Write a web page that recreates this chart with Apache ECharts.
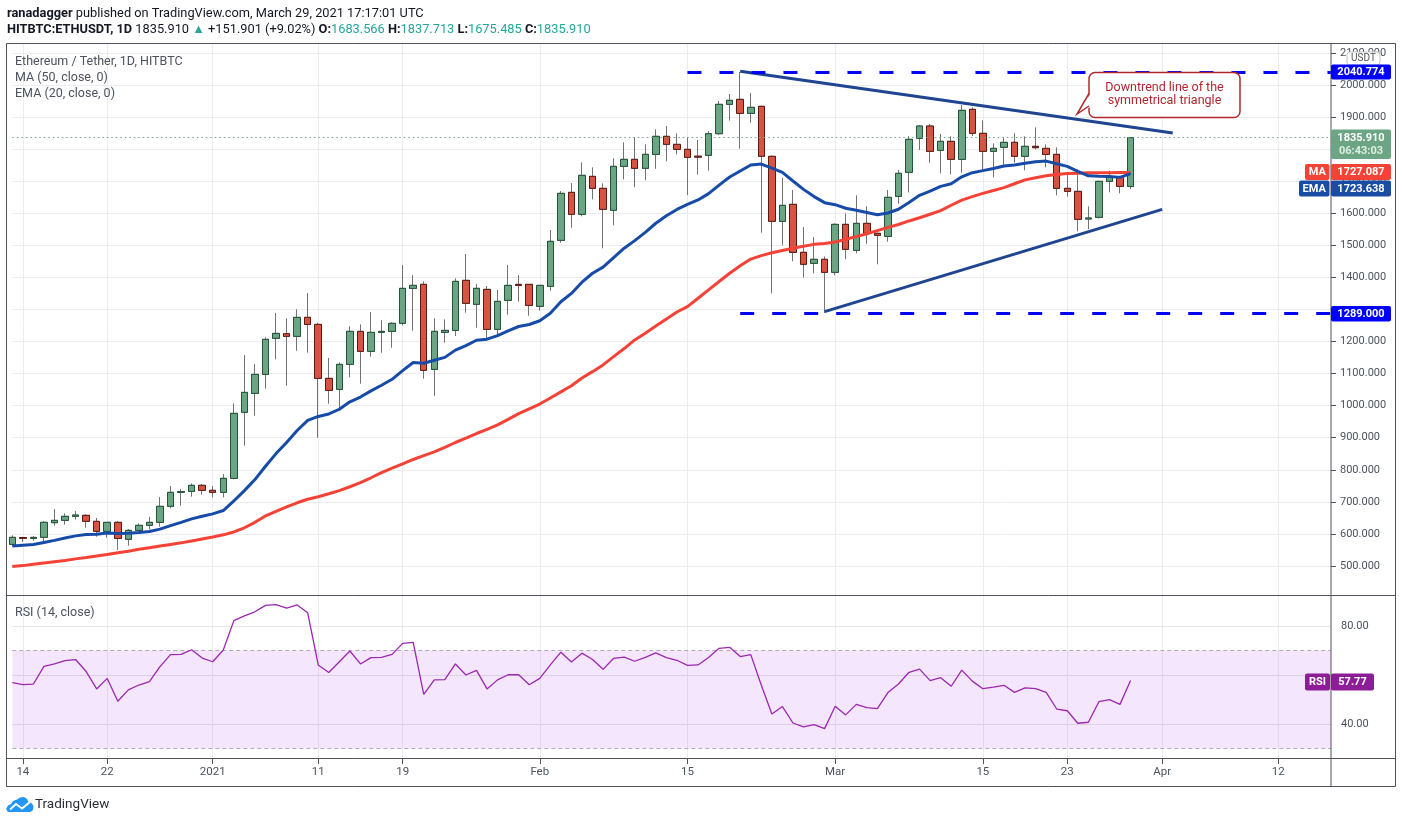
<!DOCTYPE html>
<html><head><meta charset="utf-8">
<script src="https://cdn.jsdelivr.net/npm/echarts@6.0.0/dist/echarts.min.js"></script>
<style>html,body{margin:0;padding:0;background:#fff}#c{width:1402px;height:823px}</style>
</head><body><div id="c"></div>
<script>
const dates = [
'2020-12-13','2020-12-14','2020-12-15','2020-12-16','2020-12-17','2020-12-18','2020-12-19','2020-12-20','2020-12-21','2020-12-22',
'2020-12-23','2020-12-24','2020-12-25','2020-12-26','2020-12-27','2020-12-28','2020-12-29','2020-12-30','2020-12-31',
'2021-01-01','2021-01-02','2021-01-03','2021-01-04','2021-01-05','2021-01-06','2021-01-07','2021-01-08','2021-01-09','2021-01-10',
'2021-01-11','2021-01-12','2021-01-13','2021-01-14','2021-01-15','2021-01-16','2021-01-17','2021-01-18','2021-01-19','2021-01-20',
'2021-01-21','2021-01-22','2021-01-23','2021-01-24','2021-01-25','2021-01-26','2021-01-27','2021-01-28','2021-01-29','2021-01-30','2021-01-31',
'2021-02-01','2021-02-02','2021-02-03','2021-02-04','2021-02-05','2021-02-06','2021-02-07','2021-02-08','2021-02-09','2021-02-10',
'2021-02-11','2021-02-12','2021-02-13','2021-02-14','2021-02-15','2021-02-16','2021-02-17','2021-02-18','2021-02-19','2021-02-20',
'2021-02-21','2021-02-22','2021-02-23','2021-02-24','2021-02-25','2021-02-26','2021-02-27','2021-02-28',
'2021-03-01','2021-03-02','2021-03-03','2021-03-04','2021-03-05','2021-03-06','2021-03-07','2021-03-08','2021-03-09','2021-03-10',
'2021-03-11','2021-03-12','2021-03-13','2021-03-14','2021-03-15','2021-03-16','2021-03-17','2021-03-18','2021-03-19','2021-03-20',
'2021-03-21','2021-03-22','2021-03-23','2021-03-24','2021-03-25','2021-03-26','2021-03-27','2021-03-28','2021-03-29','2021-03-30','2021-03-31',
'2021-04-01','2021-04-02','2021-04-03','2021-04-04','2021-04-05','2021-04-06','2021-04-07','2021-04-08','2021-04-09','2021-04-10',
'2021-04-11','2021-04-12','2021-04-13','2021-04-14','2021-04-15','2021-04-16','2021-04-17'];

const tickLabels = {'2020-12-14':'14','2020-12-22':'22','2021-01-01':'2021','2021-01-11':'11','2021-01-19':'19',
'2021-02-01':'Feb','2021-02-15':'15','2021-03-01':'Mar','2021-03-15':'15','2021-03-23':'23','2021-04-01':'Apr','2021-04-12':'12'};

const opens = [567.3,588.5,586.0,589.2,634.9,642.2,654.7,657.8,639.1,607.9,
636.0,583.0,611.0,626.6,636.0,685.9,729.5,732.6,751.4,735.8,
729.5,773.2,979.0,1038.3,1097.5,1209.8,1224.3,1216.0,1275.3,1253.4,
1085.0,1050.7,1128.7,1231.6,1169.3,1228.5,1231.6,1256.6,1365.7,1378.2,
1113.1,1228.5,1234.7,1390.7,1315.9,1362.6,1237.9,1328.3,1378.2,1378.2,
1309.6,1372.0,1515.5,1665.2,1596.6,1715.1,1677.7,1609.1,1746.3,1768.1,
1740.1,1783.7,1839.9,1814.9,1799.4,1778.0,1780.6,1848.2,1939.7,1955.3,
1911.6,1933.5,1777.5,1574.8,1627.8,1478.1,1443.8,1456.3,1415.7,1565.4,
1484.3,1568.5,1537.4,1528.0,1652.8,1727.6,1833.6,1872.1,1796.2,1824.3,
1768.1,1924.1,1849.3,1793.1,1805.6,1821.2,1777.5,1808.7,1802.4,1783.7,
1677.7,1668.3,1582.0,1587.2,1699.5,1712.0,1683.566];

const closes = [589.2,586.0,589.0,636.0,642.2,654.7,658.8,639.1,607.9,636.0,
586.0,611.0,626.6,636.0,685.9,729.5,731.6,751.4,735.8,729.5,
773.2,975.9,1041.3,1097.5,1206.7,1225.3,1216.0,1275.3,1253.4,1085.0,
1047.6,1128.7,1231.6,1169.3,1228.5,1231.6,1256.6,1365.7,1375.1,1110.0,
1231.6,1234.7,1387.6,1319.0,1365.8,1237.9,1325.2,1375.1,1375.0,1312.7,
1375.1,1512.4,1662.1,1596.6,1718.2,1677.7,1612.2,1746.3,1768.1,1740.1,
1783.7,1839.9,1814.9,1799.3,1774.4,1775.0,1848.2,1939.7,1952.2,1911.6,
1930.4,1777.5,1574.8,1624.7,1478.1,1440.7,1456.3,1415.7,1565.4,1487.5,
1568.5,1537.4,1531.1,1649.6,1724.5,1830.5,1872.1,1793.1,1824.3,1768.1,
1921.0,1849.3,1793.1,1802.4,1821.2,1777.5,1808.7,1804.5,1783.7,1677.7,
1668.3,1581.0,1585.2,1699.5,1712.0,1683.9,1835.91];

const lows = [562.1,575,579,576.7,625.6,628.7,644.3,619.3,591.2,588,
549.7,563.2,603.7,614.1,622.4,679.6,687.9,716,722.2,713.9,
713.9,770.1,875.0,968.6,1052.8,1144.3,1062.2,1171.3,1165.1,899.9,
1006.0,985.2,1088.1,1068.4,1152.6,1165.1,1180.7,1250.3,1233.7,1084.0,
1031.0,1196.3,1217.1,1289.9,1243.1,1204.6,1215.0,1283.6,1324.2,1280.5,
1296.1,1358.5,1508.2,1555.0,1590.3,1643.4,1490.5,1562.3,1705.7,1680.8,
1702.6,1739.0,1761.9,1783.7,1656.9,1720.3,1732.8,1845,1888.8,1801.4,
1882.5,1539.4,1350.2,1499.9,1450.0,1399.1,1412.6,1289.0,1406.4,1456.3,
1475.0,1505.1,1440.7,1511.4,1629.9,1665.2,1797.3,1757.7,1724.5,1721.4,
1726.6,1840.9,1731.8,1712.0,1743.2,1757.7,1733.8,1799.3,1743.2,1655.9,
1651.7,1543.6,1549.8,1584.1,1665.2,1662.1,1675.485];

const highs = [595.4,591,593,640.1,677.5,664,671.3,661,649.5,636.5,
640,615.1,632.8,653.6,715,749.3,739.9,757.6,755.5,749.3,
786.7,1007.1,1157.8,1129.7,1212.9,1288.8,1272.2,1300.2,1351.2,1258.6,
1148.4,1134.9,1247.2,1253.4,1291.9,1265.9,1259.7,1438.5,1407.3,1387.6,
1272.2,1269.0,1396.9,1472.8,1379.3,1373.0,1360.6,1438.5,1407.4,1378.2,
1375.1,1547.7,1669.4,1694.3,1758.8,1743.2,1693.3,1771.2,1821.1,1836.7,
1814.9,1861.7,1872.1,1849.2,1836.8,1828.5,1856.5,1950.1,1972.0,2040.774,
1975.1,1936,1780.6,1709.9,1672.5,1557.1,1525.9,1465.6,1568.5,1599.7,
1655.9,1621.6,1540,1672.5,1734.9,1840.9,1875,1878.4,1847.2,1839.9,
1937.6,1930.3,1889.8,1818.0,1836.8,1849.3,1839.9,1868.0,1814.9,1805.6,
1724.5,1736.9,1621.5,1702,1732.8,1717.2,1837.713];

const ema20 = [562.0,564.3,566.6,573.2,579.8,586.9,593.8,598.1,599.0,602.5,
600.9,601.9,604.2,607.2,614.7,625.6,635.7,646.7,655.2,662.3,
672.8,702.7,734.9,769.4,811.0,850.4,885.2,922.3,953.8,966.3,
974.0,988.7,1011.8,1026.8,1046.0,1063.7,1082.1,1109.1,1134.4,1132.1,
1141.6,1150.5,1173.1,1187.0,1204.0,1207.2,1218.4,1233.3,1246.8,1253.1,
1264.7,1288.3,1323.9,1349.9,1385.0,1412.9,1431.9,1461.8,1491.0,1514.7,
1540.3,1568.8,1592.2,1611.9,1627.4,1641.5,1661.2,1687.7,1712.9,1731.8,
1750.7,1753.3,1741.0,1727.5,1700.5,1674.5,1652.0,1633.0,1626.8,1615.5,
1609.2,1602.4,1595.6,1600.7,1612.5,1633.3,1656.0,1669.1,1683.9,1691.9,
1713.7,1726.6,1732.9,1739.5,1747.3,1750.2,1755.8,1760.4,1762.6,1754.5,
1746.3,1730.6,1716.8,1715.2,1714.9,1711.9,1723.638];

const ma50 = [498,501,505,509,513,517,522,526,531,536,
541,546,552,557,562,567,572,578,584,590,
597,606,619,636,656,670,684,697,708,716,
725,735,747,760,775,791,805,818,832,844,
856,870,885,899,913,926,940,957,975,990,
1005,1024,1043,1062,1086,1106,1127,1153,1178,1205,
1226,1248,1270,1292,1309,1335,1361,1387,1413,1436,
1457,1468,1477,1484,1491,1497,1503,1506,1510,1519,
1527,1536,1546,1556,1565,1576,1586,1597,1608,1625,
1641,1652,1662,1671,1680,1692,1704,1711,1717,1721,
1724,1725,1726,1726,1726,1727,1727.087];

const rsi14 = [56.9,56.1,56.3,63.5,64.5,65.9,66.3,61.4,54.3,58.6,
49.3,53.9,55.9,57.3,63.4,68.3,68.4,70.3,66.9,65.4,
70.2,82.2,84.1,85.8,88.4,88.7,87.3,88.6,85.4,64.1,
61.0,65.4,69.8,64.5,67.1,67.2,68.4,72.9,73.3,52.1,
58.0,58.1,64.5,60.0,61.9,54.3,58.0,60.1,60.1,56.0,
58.6,64.1,69.3,65.3,68.9,66.3,62.3,66.8,67.3,65.6,
67.2,69.0,67.1,66.0,63.9,64.1,67.1,70.9,71.3,67.5,
68.3,55.8,44.1,47.1,40.4,38.8,39.7,38.1,47.2,43.7,
48.0,46.7,46.3,52.8,56.3,61.1,62.4,57.7,58.9,55.4,
62.0,57.5,54.4,55.0,55.8,52.9,54.7,54.4,52.9,46.1,
45.4,40.3,40.7,49.1,49.9,48.0,57.77];

const downTrend = [['2021-02-20', 2043], ['2021-04-02', 1850]];
const upTrend = [['2021-02-28', 1293], ['2021-04-01', 1612]];
const resistance = {from: '2021-02-15', to: '2021-04-17', value: 2040.774};
const support = {from: '2021-02-20', to: '2021-04-17', value: 1289.0};
const lastClose = 1835.91;
const hiddenPriceLabels = [1300];

const F = 'Roboto, "Liberation Sans", sans-serif';
const frameColor = '#50535e';
const gridColor = '#ececee';
const candleData = opens.map((o, i) => [o, closes[i], lows[i], highs[i]]);
const bodyData = opens.map((o, i) => [o, closes[i], Math.min(o, closes[i]), Math.max(o, closes[i])]);
const isTick = (idx, val) => tickLabels[val] !== undefined;

function hline(y, x1, x2) { return {type:'line', silent:true, z:100, shape:{x1:x1, y1:y, x2:x2, y2:y}, style:{stroke:frameColor, lineWidth:1}}; }
function vline(x, y1, y2) { return {type:'line', silent:true, z:100, shape:{x1:x, y1:y1, x2:x, y2:y2}, style:{stroke:frameColor, lineWidth:1}}; }
function text(x, y, t, o) {
  o = o || {};
  const st = {text:t, fill:o.fill || '#4c525e', fontSize:o.size || 12.5,
    fontFamily:F, fontWeight:o.weight || 'normal', align:o.align || 'left', verticalAlign:'middle'};
  if (o.rich) st.rich = o.rich;
  if (o.lh) st.lineHeight = o.lh;
  return {type:'text', silent:true, z:102, x:x, y:y, style:st};
}
function rect(x, y, w, h, fill, o) {
  o = o || {};
  const st = {fill:fill};
  if (o.stroke) { st.stroke = o.stroke; st.lineWidth = o.lw || 1; }
  return {type:'rect', silent:true, z:101, shape:{x:x, y:y, width:w, height:h, r:o.r || 0}, style:st};
}
function priceBox(x, y, w, h, fill, label) {
  return [rect(x, y, w, h, fill, {r:2}), text(x + w / 2, y + h / 2 + 0.5, label, {fill:'#fff', size:11, weight:'bold', align:'center'})];
}

const HS = 12.8;
const graphics = [].concat(
  [text(7, 13.5, '{b|ranadagger} published on TradingView.com, March 29, 2021 17:17:01 UTC',
     {fill:'#131722', size:HS, rich:{b:{fontWeight:'bold', fontSize:HS, fontFamily:F, fill:'#131722'}}}),
   text(7, 30, '{b|HITBTC:ETHUSDT, 1D} 1835.910 {t|▲} +151.901 (+9.02%) {b|O:}{t|1683.566} {b|H:}{t|1837.713} {b|L:}{t|1675.485} {b|C:}{t|1835.910}',
     {fill:'#131722', size:HS, rich:{b:{fontWeight:'bold', fontSize:HS, fontFamily:F, fill:'#131722'}, t:{fontSize:HS, fontFamily:F, fill:'#26a69a'}}}),
   text(15, 61.5, 'Ethereum / Tether, 1D, HITBTC', {size:12.5}),
   text(15, 77.5, 'MA (50, close, 0)', {size:12.5}),
   text(15, 94, 'EMA (20, close, 0)', {size:12.5}),
   text(15, 613, 'RSI (14, close)', {size:12.5}),
   hline(43.5, 6.5, 1395.5), hline(786.5, 6.5, 1395.5), hline(595.5, 6.5, 1395.5), hline(758.5, 6.5, 1395.5),
   vline(6.5, 43.5, 786.5), vline(1395.5, 43.5, 786.5), vline(1331, 43.5, 786.5),
   rect(1347, 52, 33, 13, '#fff', {r:3, stroke:'#c3c3c3', lw:1}),
   text(1363.5, 58.8, 'USDT', {size:10, fill:'#555', align:'center'})
  ],
  priceBox(1331, 64.5, 60, 15, '#0000ff', '2040.774'),
  priceBox(1331, 306, 60, 15.5, '#0000ff', '1289.000'),
  [rect(1331, 129.5, 60, 29.5, '#6ba583', {r:2}),
   text(1361, 138.5, '1835.910', {fill:'#fff', size:11, weight:'bold', align:'center'}),
   text(1361, 151.5, '06:43:03', {fill:'#dcefe4', size:11, weight:'bold', align:'center'})],
  priceBox(1305, 164, 24.5, 16, '#f44336', 'MA'),
  priceBox(1331, 164, 60, 16, '#f44336', '1727.087'),
  priceBox(1299, 180.5, 30.5, 16, '#1a4ca3', 'EMA'),
  priceBox(1331, 180.5, 60, 16, '#1a4ca3', '1723.638'),
  priceBox(1305, 673.5, 25, 17, '#8c1d97', 'RSI'),
  priceBox(1331, 673.5, 43, 17, '#8c1d97', '57.77'),
  [rect(1089, 72.5, 151, 45, '#fff', {r:6, stroke:'#b2272f', lw:1.5}),
   {type:'polygon', silent:true, z:101, shape:{points:[[1091,93],[1077,114],[1091,106.5]]}, style:{fill:'#fff'}},
   {type:'polyline', silent:true, z:101, shape:{points:[[1089,93.5],[1077,114],[1089,106]]}, style:{stroke:'#b2272f', lineWidth:1.5, fill:null}},
   text(1164.5, 94, 'Downtrend line of the\nsymmetrical triangle', {fill:'#b2272f', size:12.5, align:'center', lh:13}),
   {type:'polygon', silent:true, z:101,
    shape:{points:[[8,812],[6,809],[8,805.5],[11,804],[13,801],[17,799.5],[20,797.5],[24,797],[27,799],[28.5,802],[31.5,803],[33.5,806],[33,810],[30.5,812]]},
    style:{fill:'#2196f3'}},
   {type:'polyline', silent:true, z:102, shape:{points:[[10,809.5],[16,804],[22,808.5],[30,802]]}, style:{stroke:'#fff', lineWidth:2, fill:null}},
   text(35, 804.5, 'TradingView', {fill:'#2a2e39', size:13.5})
  ]
);

const trendStyle = {color:'#1f4591', width:3, type:'solid'};
const dashStyle = {color:'#0000ff', width:3, type:[14, 18]};

const option = {
  animation: false,
  textStyle: {fontFamily: F},
  grid: [
    {left: 12.3, right: 71, top: 43, height: 555},
    {left: 12.3, right: 71, top: 596, height: 163}
  ],
  xAxis: [
    {type:'category', gridIndex:0, data:dates, boundaryGap:false,
     axisLine:{show:false}, axisTick:{show:false}, axisLabel:{show:false},
     splitLine:{show:true, interval:isTick, lineStyle:{color:gridColor, width:1}}},
    {type:'category', gridIndex:1, data:dates, boundaryGap:false,
     axisLine:{show:false},
     axisTick:{show:true, interval:isTick, length:5, lineStyle:{color:frameColor}},
     axisLabel:{interval:isTick, formatter:(v) => tickLabels[v] || '', color:'#4c525e', fontSize:11.5, fontFamily:F, margin:7},
     splitLine:{show:true, interval:isTick, lineStyle:{color:gridColor, width:1}}}
  ],
  yAxis: [
    {type:'value', gridIndex:0, position:'right', min:400, max:2131, interval:100,
     axisLine:{show:false},
     axisTick:{show:true, length:5, lineStyle:{color:frameColor}},
     axisLabel:{formatter:(v) => hiddenPriceLabels.indexOf(v) >= 0 ? '' : v.toFixed(3), color:'#4c525e', fontSize:11, fontFamily:F, margin:9, showMinLabel:false, showMaxLabel:false},
     splitLine:{show:true, showMinLine:false, showMaxLine:false, lineStyle:{color:gridColor, width:1}}},
    {type:'value', gridIndex:1, position:'right', min:25.7, max:92.24,
     axisLine:{show:false}, axisTick:{show:false}, axisLabel:{show:false}, splitLine:{show:false}}
  ],
  series: [
    {type:'candlestick', name:'wicks', xAxisIndex:0, yAxisIndex:0, data:candleData, barWidth:7, clip:false, z:2, silent:true,
     itemStyle:{color:'#6ba583', color0:'#d75442', borderColor:'#737375', borderColor0:'#737375', borderWidth:1}},
    {type:'candlestick', name:'bodies', xAxisIndex:0, yAxisIndex:0, data:bodyData, barWidth:7, clip:false, z:3, silent:true,
     itemStyle:{color:'#6ba583', color0:'#d75442', borderColor:'#225437', borderColor0:'#5b1a13', borderWidth:1},
     markLine:{silent:true, symbol:['none','none'], label:{show:false}, z:5,
       data:[
         [{coord:downTrend[0], lineStyle:trendStyle}, {coord:downTrend[1]}],
         [{coord:upTrend[0], lineStyle:trendStyle}, {coord:upTrend[1]}],
         [{coord:[resistance.from, resistance.value], lineStyle:dashStyle}, {coord:[resistance.to, resistance.value]}],
         [{coord:[support.from, support.value], lineStyle:dashStyle}, {coord:[support.to, support.value]}],
         {yAxis:lastClose, lineStyle:{color:'#6ba583', type:[1.5, 3], width:1}}
       ]}},
    {type:'line', name:'MA', xAxisIndex:0, yAxisIndex:0, data:ma50, symbol:'none', showSymbol:false, z:4, silent:true,
     lineStyle:{color:'#f44336', width:3}},
    {type:'line', name:'EMA', xAxisIndex:0, yAxisIndex:0, data:ema20, symbol:'none', showSymbol:false, z:4, silent:true,
     lineStyle:{color:'#164ba8', width:3}},
    {type:'line', name:'RSI', xAxisIndex:1, yAxisIndex:1, data:rsi14, symbol:'none', showSymbol:false, z:6, silent:true,
     lineStyle:{color:'#9c27b0', width:1.3},
     markArea:{silent:true, z:1, itemStyle:{color:'rgba(163,47,238,0.12)'}, data:[[{yAxis:30}, {yAxis:70}]]},
     markLine:{silent:true, z:2, symbol:['none','none'],
       data:[
         {yAxis:80, lineStyle:{color:'#e6e6e6', type:'solid', width:1}, label:{show:true, position:'end', formatter:'80.00', color:'#4c525e', fontSize:11, fontFamily:F, distance:10}},
         {yAxis:60, lineStyle:{color:'#dccfe6', type:'solid', width:1}, label:{show:false}},
         {yAxis:40, lineStyle:{color:'#dccfe6', type:'solid', width:1}, label:{show:true, position:'end', formatter:'40.00', color:'#4c525e', fontSize:11, fontFamily:F, distance:10}},
         {yAxis:70, lineStyle:{color:'#b3aab9', type:[4, 3], width:1}, label:{show:false}},
         {yAxis:30, lineStyle:{color:'#b3aab9', type:[4, 3], width:1}, label:{show:false}}
       ]}}
  ],
  graphic: {elements: graphics}
};

const chart = echarts.init(document.getElementById('c'), null, {renderer:'canvas'});
chart.setOption(option);
</script>
</body></html>
